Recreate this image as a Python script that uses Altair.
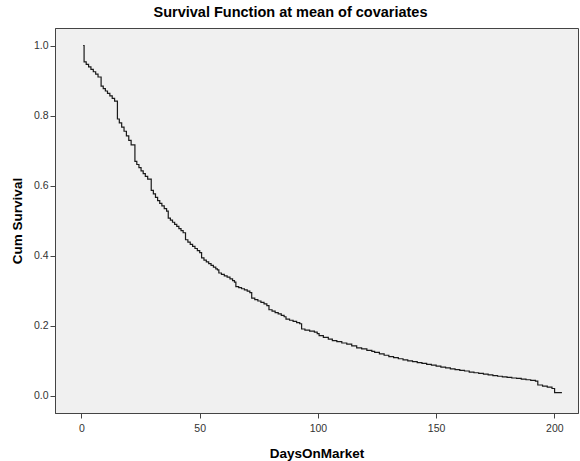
import altair as alt
import pandas as pd

# Event times (days) and cumulative survival after each event
days = [
    0.7, 1.1, 2.0, 3.0, 4.0, 5.0, 6.0, 7.0, 8.3, 9.2, 10.1, 11.0, 12.0, 13.0, 14.0,
    15.2, 16.0, 17.0, 18.0, 19.0, 20.0, 21.0, 22.6, 23.4, 24.3, 25.2, 26.1, 27.0, 28.0,
    29.5, 30.4, 31.3, 32.2, 33.1, 34.0, 35.0, 36.0, 36.7, 37.6, 38.5, 39.4, 40.3, 41.2,
    42.1, 43.0, 44.0, 45.0, 46.0, 47.0, 48.0, 49.0, 50.0, 50.8, 51.8, 52.8, 53.8, 54.8,
    55.8, 56.8, 57.5, 58.1, 59.2, 60.4, 61.6, 62.8, 63.9, 64.7, 65.3, 66.5, 67.7, 68.9,
    70.1, 71.2, 72.0, 73.3, 74.6, 75.9, 77.2, 78.4, 79.3, 80.6, 81.9, 83.2, 84.5, 85.7,
    86.5, 88.0, 89.5, 91.0, 92.3, 93.1, 94.5, 96.5, 98.5, 99.7, 100.5, 102.3, 104.4,
    106.1, 108.0, 110.1, 112.2, 114.3, 116.4, 118.5, 120.7, 122.8, 124.0, 126.0, 128.0,
    130.0, 132.0, 134.0, 136.0, 138.0, 140.0, 142.0, 144.0, 146.0, 148.0, 150.0, 152.0,
    154.0, 156.0, 158.0, 160.0, 162.0, 164.0, 166.0, 168.0, 170.0, 172.0, 174.0, 176.0,
    178.0, 180.0, 182.0, 184.0, 186.0, 188.0, 190.0, 192.0, 193.0, 195.0, 197.0, 199.0,
    200.1, 203.2,
]
survival = [
    1.000, 0.953, 0.946, 0.939, 0.932, 0.925, 0.918, 0.910, 0.884, 0.877, 0.870, 0.863, 0.856, 0.849, 0.841,
    0.790, 0.779, 0.767, 0.755, 0.742, 0.729, 0.716, 0.669, 0.660, 0.651, 0.642, 0.634, 0.626, 0.618,
    0.586, 0.576, 0.566, 0.557, 0.549, 0.542, 0.534, 0.527, 0.507, 0.501, 0.495, 0.489, 0.483, 0.477,
    0.471, 0.465, 0.445, 0.438, 0.432, 0.426, 0.420, 0.414, 0.408, 0.393, 0.387, 0.382, 0.377, 0.372,
    0.367, 0.362, 0.359, 0.350, 0.346, 0.342, 0.338, 0.333, 0.328, 0.324, 0.311, 0.308, 0.305, 0.302,
    0.298, 0.294, 0.278, 0.274, 0.270, 0.266, 0.262, 0.257, 0.245, 0.241, 0.237, 0.233, 0.229, 0.225,
    0.218, 0.215, 0.212, 0.208, 0.205, 0.190, 0.187, 0.184, 0.181, 0.177, 0.171, 0.166, 0.161,
    0.157, 0.154, 0.150, 0.147, 0.142, 0.136, 0.133, 0.129, 0.126, 0.123, 0.119, 0.115,
    0.111, 0.108, 0.105, 0.102, 0.099, 0.097, 0.094, 0.092, 0.089, 0.087, 0.084, 0.081,
    0.079, 0.076, 0.074, 0.072, 0.070, 0.067, 0.065, 0.063, 0.061, 0.059, 0.057, 0.055,
    0.053, 0.052, 0.050, 0.049, 0.047, 0.045, 0.043, 0.041, 0.030, 0.027, 0.024, 0.020,
    0.008, 0.008,
]

x_ticks = [0, 50, 100, 150, 200]
y_ticks = [0.0, 0.2, 0.4, 0.6, 0.8, 1.0]

df = pd.DataFrame({"DaysOnMarket": days, "Survival": survival})

FONT = "Liberation Sans"

chart = (
    alt.Chart(df)
    .mark_line(interpolate="step-after", color="#1a1a1a", strokeWidth=1.2)
    .encode(
        x=alt.X(
            "DaysOnMarket:Q",
            scale=alt.Scale(domain=[-11.2, 210], nice=False, zero=False),
            axis=alt.Axis(values=x_ticks, title="DaysOnMarket", format="d", grid=False),
        ),
        y=alt.Y(
            "Survival:Q",
            scale=alt.Scale(domain=[-0.05, 1.05], nice=False, zero=False),
            axis=alt.Axis(values=y_ticks, title="Cum Survival", format=".1f", grid=False),
        ),
    )
    .properties(
        width=523,
        height=385,
        autosize=alt.AutoSizeParams(type="none"),
        padding={"left": 55, "top": 28, "right": 2, "bottom": 48},
        title=alt.TitleParams(
            "Survival Function at mean of covariates",
            font=FONT, fontSize=14.5, fontWeight="bold", color="#000",
            anchor="middle", frame="group", dx=-26, offset=8,
        ),
        background="white",
    )
    .configure_view(fill="#f0f0f0", stroke="#444", strokeWidth=1)
    .configure_axis(
        domainColor="#444",
        tickColor="#444",
        tickSize=5,
        labelFont=FONT,
        labelFontSize=10.5,
        labelColor="#333",
        titleFont=FONT,
        titleFontSize=13.5,
        titleFontWeight="bold",
        titleColor="#000",
    )
    .configure_axisX(labelPadding=5, titlePadding=13)
    .configure_axisY(labelPadding=2, titlePadding=9)
)

chart.save("out.html", embed_options={"renderer": "svg", "actions": False})
